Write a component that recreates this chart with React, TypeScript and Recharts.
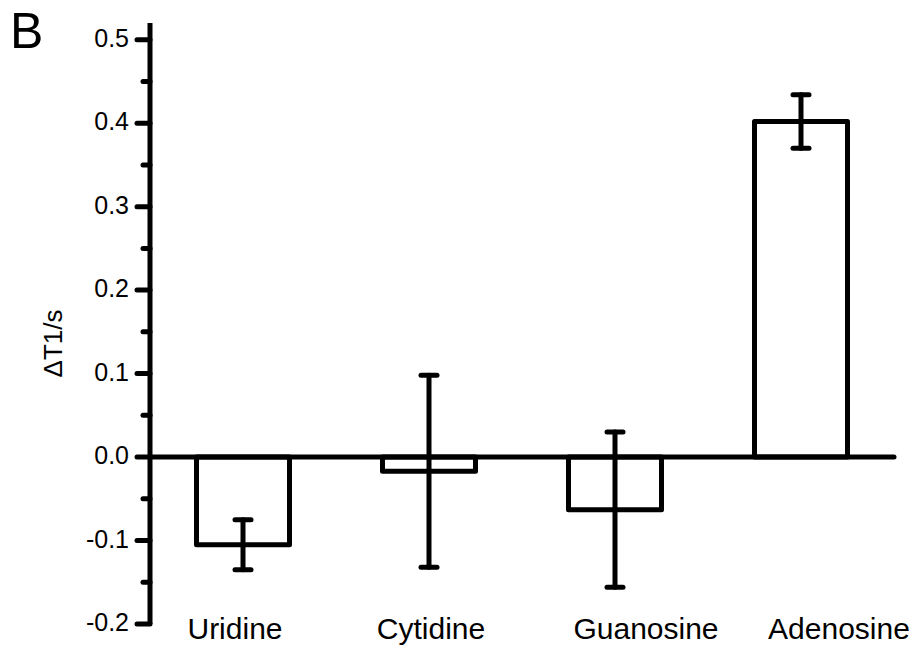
import React from 'react';
import { BarChart, Bar, XAxis, YAxis, ErrorBar, ReferenceLine } from 'recharts';

const categories = ['Uridine', 'Cytidine', 'Guanosine', 'Adenosine'];
const deltaT1 = [-0.105, -0.017, -0.063, 0.402];
const errors = [0.03, 0.115, 0.093, 0.032];
const yTicks = [-0.2, -0.15, -0.1, -0.05, 0, 0.05, 0.1, 0.15, 0.2, 0.25, 0.3, 0.35, 0.4, 0.45, 0.5];
const majorTicks = [-0.2, -0.1, 0, 0.1, 0.2, 0.3, 0.4, 0.5];

const data = categories.map((name, i) => ({ name, value: deltaT1[i], err: errors[i] }));

// the category labels in the original sit a little off the bar centres
const labelShift: Record<string, number> = { Uridine: -8, Cytidine: 2, Guanosine: 31, Adenosine: 38 };

const FONT = '"Liberation Sans", Arial, sans-serif';
const AXIS_X = 150;
const LINE_W = 5;

const YTick = (props: any) => {
    const { y, payload } = props;
    const v = payload.value;
    const isMajor = majorTicks.some((m) => Math.abs(m - v) < 1e-6);
    return (
        <g>
            <line
                x1={AXIS_X - (isMajor ? 13 : 7)}
                x2={AXIS_X}
                y1={y}
                y2={y}
                stroke="#000"
                strokeWidth={LINE_W}
                strokeLinecap="round"
            />
            {isMajor && (
                <text
                    x={AXIS_X - 21}
                    y={y}
                    dy={7}
                    textAnchor="end"
                    fontSize={25}
                    fontFamily={FONT}
                    fill="#000"
                >
                    {v.toFixed(1)}
                </text>
            )}
        </g>
    );
};

const XTick = (props: any) => {
    const { x, y, payload } = props;
    return (
        <text
            x={x + (labelShift[payload.value] || 0)}
            y={y}
            dy={15}
            textAnchor="middle"
            fontSize={30}
            fontFamily={FONT}
            fill="#000"
        >
            {payload.value}
        </text>
    );
};

const YLabel = (props: any) => {
    const { viewBox } = props;
    const cx = viewBox.x + 53;
    const cy = viewBox.y + viewBox.height / 2 + 20;
    return (
        <text
            transform={`translate(${cx},${cy}) rotate(-90)`}
            textAnchor="middle"
            dominantBaseline="central"
            fontSize={26}
            fontFamily={FONT}
            fill="#000"
        >
            ΔT1/s
        </text>
    );
};

export default function App() {
    return (
        <div style={{ position: 'relative', width: 917, height: 650, background: '#fff' }}>
            <style>{`body{margin:0}`}</style>
            <div
                style={{
                    position: 'absolute',
                    left: 10,
                    top: 6,
                    fontSize: 50,
                    fontFamily: FONT,
                    color: '#000',
                    lineHeight: 1,
                }}
            >
                B
            </div>
            <BarChart
                width={917}
                height={650}
                data={data}
                margin={{ top: 23, right: 23, left: 0, bottom: 0 }}
                barCategoryGap="25%"
            >
                <XAxis
                    dataKey="name"
                    axisLine={false}
                    tickLine={false}
                    tickSize={0}
                    tickMargin={0}
                    height={26}
                    tick={<XTick />}
                    interval={0}
                />
                <YAxis
                    type="number"
                    domain={[-0.2, 0.52]}
                    ticks={yTicks}
                    width={150}
                    axisLine={{ stroke: '#000', strokeWidth: LINE_W }}
                    tickLine={false}
                    tick={<YTick />}
                    interval={0}
                    allowDataOverflow
                    label={<YLabel />}
                />
                <Bar
                    dataKey="value"
                    fill="#fff"
                    stroke="#000"
                    strokeWidth={LINE_W}
                    strokeLinejoin="round"
                    isAnimationActive={false}
                >
                    <ErrorBar
                        dataKey="err"
                        width={8}
                        stroke="#000"
                        strokeWidth={LINE_W}
                        strokeLinecap="round"
                        isAnimationActive={false}
                    />
                </Bar>
                <ReferenceLine y={0} stroke="#000" strokeWidth={LINE_W} strokeLinecap="round" />
            </BarChart>
        </div>
    );
}
